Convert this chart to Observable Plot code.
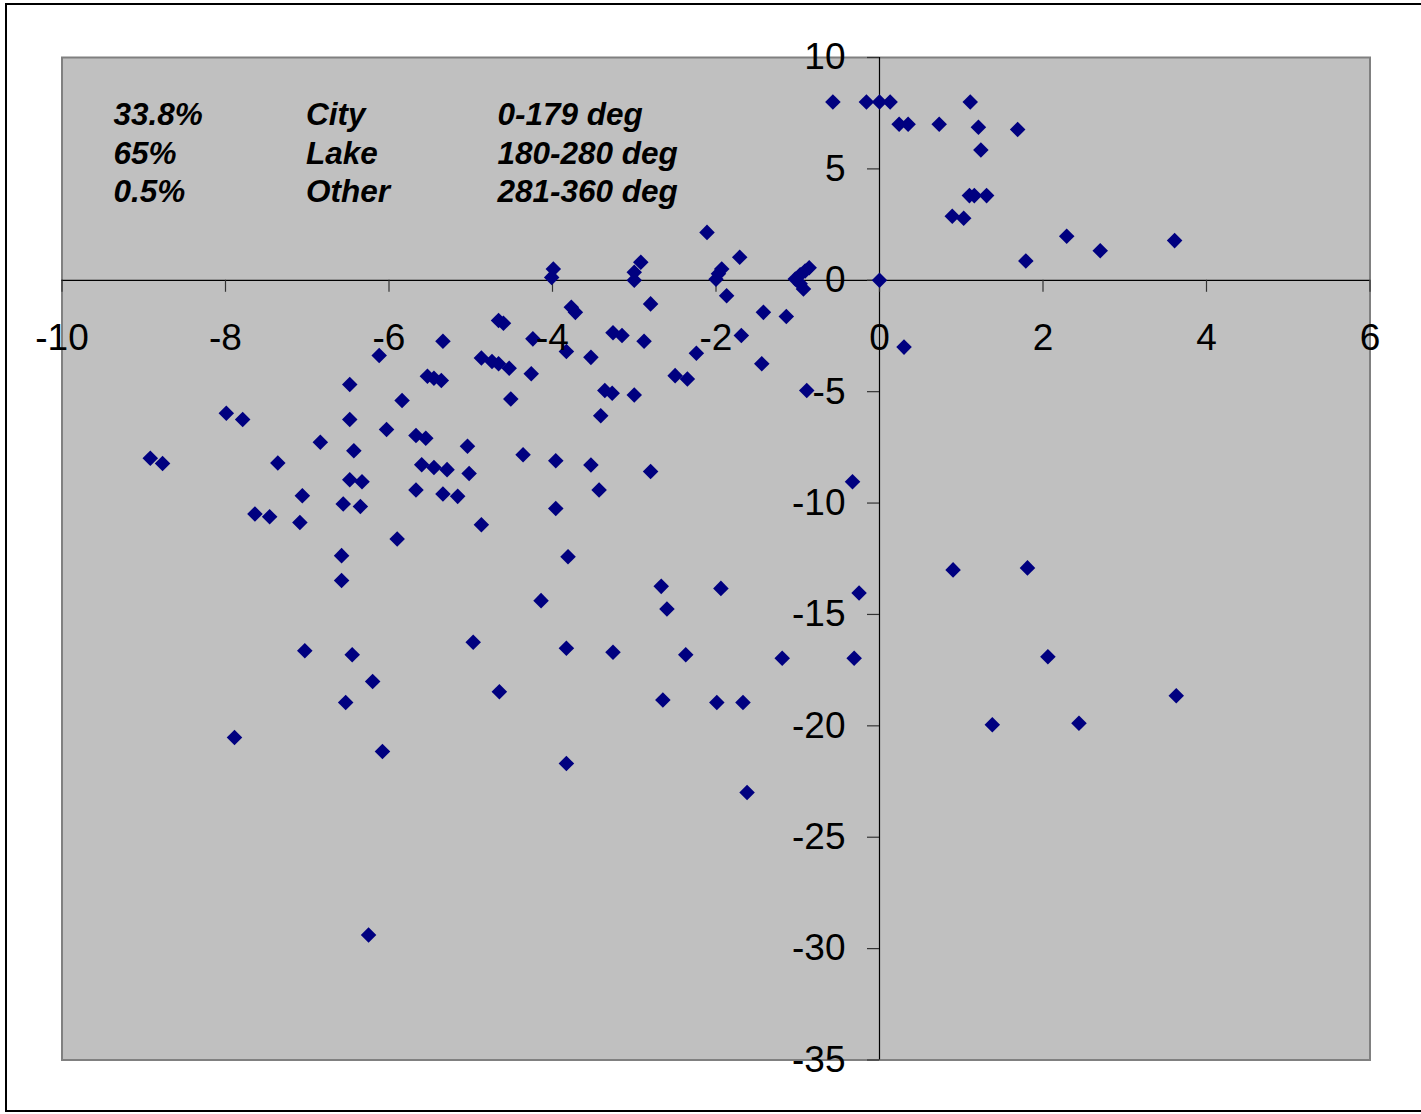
<!DOCTYPE html>
<html><head><meta charset="utf-8">
<script src="https://cdn.jsdelivr.net/npm/d3@7"></script>
<script src="https://cdn.jsdelivr.net/npm/@observablehq/plot@0.6"></script>
<style>
html,body{margin:0;padding:0;background:#fff;overflow:hidden;}
#wrap{position:relative;width:1421px;height:1114px;}
#wrap svg{display:block;}
#border{position:absolute;left:5px;top:3px;width:1420px;height:1109px;border:2px solid #000;border-right:none;pointer-events:none;box-sizing:border-box;}
</style></head><body><div id="wrap"><div id="border"></div></div>
<script>
const xValues = [
  -0.57,-0.16,0.0,0.13,0.24,0.35,0.73,1.11,1.21,1.24,1.69,1.10,1.16,1.31,0.89,1.03,2.29,2.70,3.61,1.79,0.0,0.30,
  -2.11,-1.71,-3.99,-4.01,-2.92,-3.00,-3.00,-1.93,-1.97,-2.00,-1.87,-0.86,-0.91,-0.97,-1.03,-0.97,-0.93,
  -3.77,-3.72,-2.80,-1.42,-1.14,-4.66,-4.60,-4.24,-3.26,-3.15,-2.88,-1.69,-3.83,-3.53,-2.24,-1.44,-2.50,-2.35,
  -4.87,-4.74,-4.66,-4.53,-4.26,-4.51,-3.36,-3.27,-3.00,-3.41,-0.89,-4.36,-3.96,-3.53,-2.80,-3.43,-3.96,-0.33,
  -4.87,-3.81,-5.34,-6.12,-6.48,-5.53,-5.45,-5.36,-5.84,-7.99,-7.79,-6.48,-6.03,-6.84,-5.67,-5.55,-5.04,-6.43,
  -8.92,-8.77,-7.36,-5.60,-5.45,-5.29,-5.02,-6.48,-6.33,-5.67,-5.34,-5.16,-7.06,-7.64,-7.46,-7.09,-6.56,-6.35,
  -5.90,-6.58,-6.58,-4.97,-7.03,-6.45,-6.20,-6.53,-4.65,-7.89,-6.08,-6.25,-4.14,-2.67,-1.94,-0.25,-2.60,-3.83,
  -3.26,-2.37,-1.19,-0.31,-2.65,-1.99,-1.67,-3.83,-1.62,0.90,1.81,2.06,3.63,1.38,2.44
];
const yValues = [
  8.0,8.0,8.0,8.0,7.0,7.0,7.0,8.0,6.87,5.85,6.77,3.8,3.8,3.8,2.87,2.78,1.98,1.33,1.78,0.87,0.0,-3.0,
  2.15,1.03,0.51,0.13,0.81,0.36,0.0,0.51,0.29,0.05,-0.69,0.56,0.42,0.25,0.06,-0.16,-0.39,
  -1.21,-1.44,-1.06,-1.44,-1.63,-1.81,-1.93,-2.63,-2.36,-2.48,-2.74,-2.48,-3.2,-3.46,-3.28,-3.75,-4.28,-4.43,
  -3.49,-3.65,-3.75,-3.95,-4.2,-5.33,-4.95,-5.07,-5.15,-6.08,-4.95,-7.83,-8.10,-8.29,-8.58,-9.41,-10.24,-9.04,
  -10.97,-12.41,-2.74,-3.38,-4.68,-4.31,-4.40,-4.50,-5.40,-5.97,-6.25,-6.25,-6.70,-7.27,-6.97,-7.09,-7.45,-7.65,
  -7.99,-8.22,-8.20,-8.28,-8.40,-8.50,-8.67,-8.95,-9.04,-9.41,-9.59,-9.70,-9.67,-10.49,-10.61,-10.87,-10.04,-10.15,
  -11.61,-12.36,-13.48,-16.25,-16.63,-16.81,-18.01,-18.95,-18.47,-20.52,-21.15,-29.39,-14.38,-13.74,-13.83,-14.04,-14.76,-16.52,
  -16.70,-16.81,-16.97,-16.97,-18.84,-18.95,-18.95,-21.69,-22.99,-13.0,-12.91,-16.9,-18.65,-19.95,-19.88
];
const xTicks = [-10, -8, -6, -4, -2, 0, 2, 4, 6];
const yTicks = [10, 5, 0, -5, -10, -15, -20, -25, -30, -35];
const shares = ["33.8%", "65%", "0.5%"];
const sources = ["City", "Lake", "Other"];
const directions = ["0-179 deg", "180-280 deg", "281-360 deg"];

const points = xValues.map((x, i) => ({x, y: yValues[i]}));
const font = "'Liberation Sans', Arial, Helvetica, sans-serif";
const noteStyle = {frameAnchor: "top-left", lineAnchor: "top", lineHeight: 1.23, fontSize: 31.5,
  fontWeight: "bold", fontStyle: "italic", textAnchor: "start", fill: "#000", dy: 40};

const chart = Plot.plot({
  width: 1421,
  height: 1114,
  marginLeft: 61.5,
  marginRight: 51.5,
  marginTop: 57,
  marginBottom: 54.5,
  style: {fontFamily: font, background: "#fff", overflow: "visible"},
  x: {domain: [-10, 6], axis: null},
  y: {domain: [-35, 10], axis: null},
  marks: [
    Plot.frame({fill: "#c0c0c0", stroke: null}),
    Plot.frame({stroke: "#808080", strokeWidth: 2}),
    Plot.ruleY([0], {stroke: "#000", strokeWidth: 1.2}),
    Plot.ruleX([0], {stroke: "#000", strokeWidth: 1.2}),
    Plot.ruleX(xTicks, {x: d => d, y1: 0, y2: 0, insetBottom: -12, stroke: "#333", strokeWidth: 1.2}),
    Plot.ruleY(yTicks, {y: d => d, x1: 0, x2: 0, insetLeft: -12, stroke: "#333", strokeWidth: 1.2}),
    Plot.dot(points, {x: "x", y: "y", symbol: "diamond2", r: 7, fill: "#000080", stroke: null}),
    Plot.text([shares.join("\n")], {...noteStyle, text: d => d, dx: 51.5}),
    Plot.text([sources.join("\n")], {...noteStyle, text: d => d, dx: 244}),
    Plot.text([directions.join("\n")], {...noteStyle, text: d => d, dx: 435.5}),
    Plot.text(xTicks, {x: d => d, y: 0, dy: 57.4, text: d => String(d), fontSize: 37, fill: "#000", textAnchor: "middle"}),
    Plot.text(yTicks, {x: 0, y: d => d, dx: -34, text: d => String(d), fontSize: 37, fill: "#000", textAnchor: "end"})
  ]
});
document.getElementById("wrap").appendChild(chart);
</script>
</body></html>
